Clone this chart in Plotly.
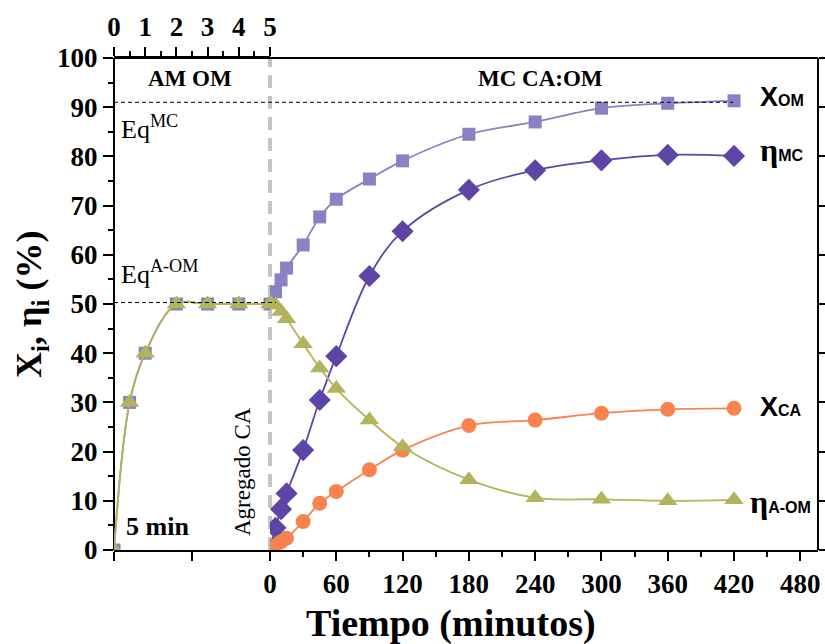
import plotly.graph_objects as go

# ---- data: AM OM stage (top axis, 0-5) ----
t_am = [0, 0.5, 1, 2, 3, 4, 5]
xom_am = [0, 30, 40, 50, 50, 50, 50]
eta_aom_am = [0, 30, 40, 50, 50, 50, 50]

# ---- data: MC CA:OM stage (minutes) ----
t_mc = [0, 5, 10, 15, 30, 45, 60, 90, 120, 180, 240, 300, 360, 420]
xom = [50.5, 52.5, 54.9, 57.3, 62.0, 67.7, 71.3, 75.4, 79.1, 84.5, 87.0, 89.8, 90.8, 91.3]
eta_mc = [0, 4.5, 8.3, 11.5, 20.3, 30.5, 39.4, 55.7, 64.8, 73.2, 77.2, 79.2, 80.3, 80.1]
xca = [0, 0.8, 1.7, 2.4, 5.8, 9.5, 11.9, 16.3, 20.3, 25.3, 26.4, 27.8, 28.6, 28.8]
eta_aom = [50.3, 49.8, 48.5, 47.0, 41.9, 37.0, 32.8, 26.4, 21.0, 14.3, 10.6, 10.3, 10.0, 10.2]

x_ticks_bottom = [0, 60, 120, 180, 240, 300, 360, 420, 480]
x_ticks_top = [0, 1, 2, 3, 4, 5]
y_ticks = [0, 10, 20, 30, 40, 50, 60, 70, 80, 90, 100]
eq_mc = 91
eq_aom = 50.3

C_XOM = "#8a80c4"
C_ETAMC = "#5e44a4"
C_XCA = "#f8834f"
C_ETAAOM = "#b3b35d"

SERIF = "Liberation Serif"
SANS = "Liberation Sans"

fig = go.Figure()

def add(x, y, color, symbol, size, xaxis):
    fig.add_trace(go.Scatter(
        x=x, y=y, xaxis=xaxis, yaxis="y", mode="lines+markers",
        line=dict(color=color, width=1.8, shape="spline"),
        marker=dict(symbol=symbol, size=size, color=color),
        showlegend=False, hoverinfo="skip"))

# left stage
add(t_am, xom_am, C_XOM, "square", 13, "x2")
add(t_am, eta_aom_am, C_ETAAOM, "triangle-up", 17, "x2")
# right stage
add(t_mc, xom, C_XOM, "square", 13, "x")
add(t_mc, eta_mc, C_ETAMC, "diamond", 17, "x")
add(t_mc, xca, C_XCA, "circle", 15, "x")
add(t_mc, eta_aom, C_ETAAOM, "triangle-up", 17, "x")

# invisible traces to activate extra axes
fig.add_trace(go.Scatter(x=[0], y=[0], xaxis="x3", yaxis="y", mode="markers",
                         marker=dict(opacity=0), showlegend=False, hoverinfo="skip"))
fig.add_trace(go.Scatter(x=[0], y=[0], xaxis="x", yaxis="y2", mode="markers",
                         marker=dict(opacity=0), showlegend=False, hoverinfo="skip"))

L, T, PW, PH = 114, 58, 704, 492
W, H = 825, 644

d0 = 156 / PW
tickfont = dict(family=SERIF, size=27, color="black", weight="bold")
axcommon = dict(showline=True, linecolor="black", linewidth=2, showgrid=False,
                zeroline=False, ticks="outside", tickcolor="black", tickwidth=2)

fig.update_layout(
    width=W, height=H,
    margin=dict(l=L, r=W - L - PW, t=T, b=H - T - PH, autoexpand=False),
    plot_bgcolor="white", paper_bgcolor="white",
    xaxis=dict(domain=[d0, 1], range=[0, 496], anchor="y", side="bottom",
               tickvals=x_ticks_bottom, ticklen=9, tickfont=tickfont,
               minor=dict(dtick=30, tick0=0, ticks="outside", ticklen=5,
                          tickcolor="black", tickwidth=2), **axcommon),
    xaxis2=dict(domain=[0, d0], range=[0, 5], anchor="y", side="bottom",
                tickvals=[0, 2.5], ticklen=9, showticklabels=False, **axcommon),
    xaxis3=dict(overlaying="x2", range=[0, 5], anchor="y", side="top",
                tickvals=x_ticks_top, ticklen=9, tickfont=tickfont,
                minor=dict(dtick=0.5, tick0=0, ticks="outside", ticklen=5,
                           tickcolor="black", tickwidth=2), **axcommon),
    yaxis=dict(range=[0, 100], anchor="free", position=0, side="left",
               tickvals=y_ticks, ticklen=10, tickfont=tickfont,
               minor=dict(dtick=5, tick0=0, ticks="outside", ticklen=5,
                          tickcolor="black", tickwidth=2), **axcommon),
    yaxis2=dict(overlaying="y", anchor="free", position=1, side="right",
                range=[0, 100], tickvals=y_ticks,
                ticklen=7, showticklabels=False, **axcommon),
)

def px_x(px):
    return (px - L) / PW

def px_y(py):
    return (T + PH - py) / PH

shapes = [
    dict(type="line", xref="paper", yref="paper", x0=0, x1=1, y0=1, y1=1,
         line=dict(color="black", width=2)),
    dict(type="line", xref="paper", yref="paper", x0=d0, x1=d0, y0=0, y1=1,
         line=dict(color="#c4c4c4", width=4, dash="13px,8px"), layer="below"),
    dict(type="line", xref="paper", yref="y", x0=0, x1=px_x(733),
         y0=eq_mc, y1=eq_mc, line=dict(color="black", width=1, dash="4px,3px")),
    dict(type="line", xref="paper", yref="y", x0=0, x1=px_x(276),
         y0=eq_aom, y1=eq_aom, line=dict(color="black", width=1, dash="4px,3px")),
]
fig.update_layout(shapes=shapes)

ann = [
    dict(text="<b>AM OM</b>", x=px_x(190), y=px_y(78), font=dict(family=SERIF, size=23)),
    dict(text="<b>MC CA:OM</b>", x=px_x(540), y=px_y(78), font=dict(family=SERIF, size=23)),
    dict(text="Eq<sup>MC</sup>", x=px_x(119), y=px_y(127), xanchor="left",
         font=dict(family=SERIF, size=26)),
    dict(text="Eq<sup>A-OM</sup>", x=px_x(119), y=px_y(272), xanchor="left",
         font=dict(family=SERIF, size=26)),
    dict(text="<b>5 min</b>", x=px_x(124), y=px_y(526), xanchor="left",
         font=dict(family=SERIF, size=26)),
    dict(text="Agregado CA", x=px_x(242), y=px_y(472), textangle=-90,
         font=dict(family=SERIF, size=23)),
    dict(text="<b>X<span style='font-size:16px'>OM</span></b>", x=px_x(758), y=px_y(97),
         xanchor="left", font=dict(family=SANS, size=27)),
    dict(text="<b>η<span style='font-family:Liberation Sans;font-size:16px'>MC</span></b>",
         x=px_x(758), y=px_y(150), xanchor="left", font=dict(family=SERIF, size=32)),
    dict(text="<b>X<span style='font-size:16px'>CA</span></b>", x=px_x(758), y=px_y(407),
         xanchor="left", font=dict(family=SANS, size=27)),
    dict(text="<b>η<span style='font-family:Liberation Sans;font-size:16px'>A-OM</span></b>",
         x=px_x(748), y=px_y(502), xanchor="left", font=dict(family=SERIF, size=32)),
    dict(text="<b>X<sub>i</sub>, η<sub>i</sub> (%)</b>", x=px_x(31), y=px_y(305),
         textangle=-90, font=dict(family=SERIF, size=36)),
    dict(text="<b>Tiempo (minutos)</b>", x=px_x(451), y=px_y(623),
         font=dict(family=SERIF, size=38)),
]
for a in ann:
    a.setdefault("xanchor", "center")
    a.update(xref="paper", yref="paper", yanchor="middle", showarrow=False)
    a["font"].setdefault("color", "black")
fig.update_layout(annotations=ann)

fig.write_html(
    "out.html",
    config={"displayModeBar": False},
    post_script="document.body.style.margin='0';"
                "document.documentElement.style.overflow='hidden';"
                "document.body.style.overflow='hidden';",
)
